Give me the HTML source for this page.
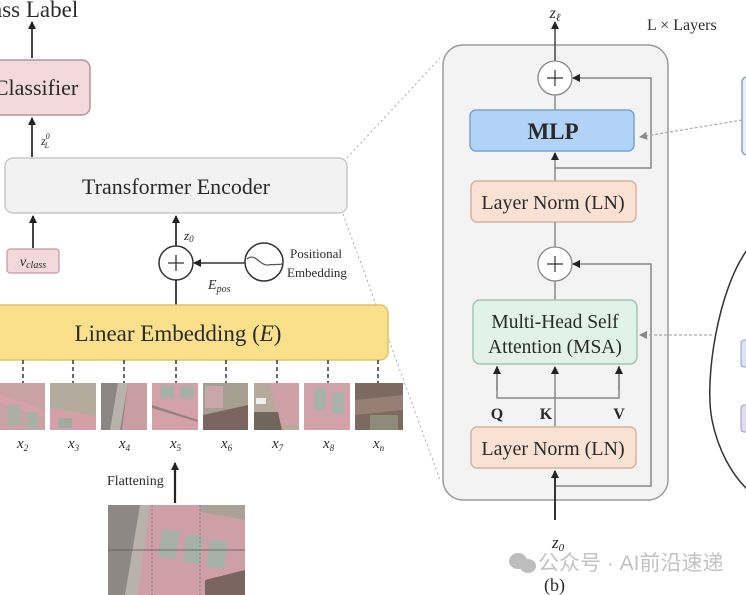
<!DOCTYPE html>
<html><head><meta charset="utf-8"><style>
html,body{margin:0;padding:0;background:#fff;width:746px;height:595px;overflow:hidden}
svg{display:block}
.s{font-family:"Liberation Serif",serif;fill:#2a2a2a}
</style></head><body>
<svg width="746" height="595" viewBox="0 0 746 595" xmlns="http://www.w3.org/2000/svg">
<defs>
<marker id="ah" markerWidth="8" markerHeight="8" refX="7" refY="4" orient="auto" markerUnits="userSpaceOnUse"><path d="M0,0 L8,4 L0,8 z" fill="#222"/></marker>
<marker id="ag" markerWidth="8" markerHeight="8" refX="7" refY="4" orient="auto" markerUnits="userSpaceOnUse"><path d="M0,0 L8,4 L0,8 z" fill="#888"/></marker>
<clipPath id="big"><rect x="108" y="505" width="137" height="90"/></clipPath>
</defs>

<line x1="347" y1="158" x2="440" y2="58" stroke="#aaa" stroke-width="1" stroke-dasharray="2,3"/>
<line x1="343" y1="214" x2="440" y2="480" stroke="#aaa" stroke-width="1" stroke-dasharray="2,3"/>

<text class="s" x="-8" y="17" font-size="23">ass Label</text>
<line x1="32" y1="58" x2="32" y2="22" stroke="#444" stroke-width="2" marker-end="url(#ah)"/>
<rect x="-10" y="60" width="100" height="55" rx="8" fill="#f3d8dc" stroke="#b9939a" stroke-width="1.5"/>
<text class="s" x="36" y="95" font-size="22" text-anchor="middle">Classifier</text>
<line x1="32" y1="157" x2="32" y2="118" stroke="#444" stroke-width="2" marker-end="url(#ah)"/>
<text class="s" x="41" y="145" font-size="12" font-style="italic" fill="#555">z<tspan font-size="8" dy="-6">0</tspan><tspan font-size="8" dx="-5" dy="9">L</tspan></text>

<rect x="5" y="158" width="342" height="55" rx="8" fill="#f2f2f2" stroke="#c8c8c8" stroke-width="1.5"/>
<text class="s" x="176" y="194" font-size="22" text-anchor="middle">Transformer Encoder</text>
<line x1="33" y1="248" x2="33" y2="216" stroke="#444" stroke-width="2" marker-end="url(#ah)"/>
<rect x="7" y="249" width="52" height="24" rx="3" fill="#f3d8dc" stroke="#c09aa0" stroke-width="1.2"/>
<text class="s" x="33" y="266" font-size="14" font-style="italic" text-anchor="middle" fill="#6a2a3a">v<tspan font-size="10" dy="2">class</tspan></text>

<line x1="176" y1="305" x2="176" y2="280" stroke="#444" stroke-width="2"/>
<line x1="176" y1="246" x2="176" y2="216" stroke="#444" stroke-width="2" marker-end="url(#ah)"/>
<text class="s" x="184" y="240" font-size="13" font-style="italic" fill="#555">z<tspan font-size="9" dy="2">0</tspan></text>
<circle cx="176" cy="263" r="17" fill="#fff" stroke="#333" stroke-width="1.5"/>
<path d="M168,263 H184 M176,255 V271" stroke="#333" stroke-width="1.3"/>
<line x1="245" y1="263" x2="194" y2="263" stroke="#333" stroke-width="1.5" marker-end="url(#ah)"/>
<text class="s" x="208" y="289" font-size="14" font-style="italic" fill="#444">E<tspan font-size="10" dy="3">pos</tspan></text>
<circle cx="264" cy="262" r="19" fill="#fff" stroke="#333" stroke-width="1.5"/>
<path d="M247,259 C255,252 260,266 268,265 C274,264 278,265 282,264" fill="none" stroke="#555" stroke-width="1.2"/>
<text class="s" x="290" y="258" font-size="13" fill="#444">Positional</text>
<text class="s" x="287" y="277" font-size="13" fill="#444">Embedding</text>

<rect x="-10" y="305" width="398" height="55" rx="8" fill="#fbe08c" stroke="#e0c26a" stroke-width="1.5"/>
<text class="s" x="178" y="341" font-size="23" text-anchor="middle">Linear Embedding (<tspan font-style="italic">E</tspan>)</text>

<g stroke="#444" stroke-width="1.6" stroke-dasharray="4,3">
<line x1="23" y1="360" x2="23" y2="383"/><line x1="73" y1="360" x2="73" y2="383"/>
<line x1="124" y1="360" x2="124" y2="383"/><line x1="176" y1="360" x2="176" y2="383"/>
<line x1="226" y1="360" x2="226" y2="383"/><line x1="277" y1="360" x2="277" y2="383"/>
<line x1="328" y1="360" x2="328" y2="383"/><line x1="378" y1="360" x2="378" y2="383"/>
</g>

<g>
<rect x="0" y="383" width="45" height="47" fill="#c9a2a4"/>
<path d="M0,395 L45,410 L45,418 L0,402z" fill="#d8a0a8"/>
<rect x="8" y="405" width="12" height="20" fill="#a9b0a4"/><rect x="26" y="412" width="12" height="16" fill="#a9b0a4"/>
<rect x="50" y="383" width="46" height="47" fill="#b3ab9c"/>
<path d="M50,408 L96,416 L96,430 L50,430z" fill="#d2a0a6"/>
<rect x="58" y="418" width="14" height="10" fill="#a4aaa0"/>
<rect x="101" y="383" width="46" height="47" fill="#8b8683"/>
<path d="M118,383 L128,383 L120,430 L110,430z" fill="#b7b2ab"/>
<path d="M128,383 L147,383 L147,430 L122,430z" fill="#c99ea2"/>
<rect x="152" y="383" width="46" height="47" fill="#d2a2a8"/>
<rect x="160" y="386" width="14" height="12" fill="#a9b1a6"/><rect x="180" y="386" width="14" height="12" fill="#a9b1a6"/>
<path d="M152,405 L198,420 L198,422 L152,408z" fill="#9a7f80"/>
<rect x="203" y="383" width="45" height="47" fill="#a59f90"/>
<rect x="205" y="386" width="18" height="22" fill="#c9a7a8"/>
<path d="M203,415 L248,405 L248,430 L203,430z" fill="#7b6560"/>
<rect x="254" y="383" width="45" height="47" fill="#b6aa9c"/>
<path d="M270,383 L299,383 L299,425 L280,425z" fill="#cfa1a6"/>
<rect x="256" y="398" width="10" height="6" fill="#eee"/>
<path d="M254,412 L278,412 L282,430 L254,430z" fill="#6f665d"/>
<rect x="304" y="383" width="46" height="47" fill="#d1a2a8"/>
<rect x="314" y="388" width="12" height="22" fill="#a8b2a8"/><rect x="332" y="392" width="12" height="22" fill="#a8b2a8"/>
<rect x="355" y="383" width="48" height="47" fill="#7c6a60"/>
<path d="M355,400 L403,395 L403,410 L355,415z" fill="#967f75"/>
<rect x="370" y="415" width="28" height="15" fill="#8f8b7a"/>
</g>

<g class="s" font-size="15" font-style="italic" fill="#444">
<text x="17" y="448">x<tspan font-size="9" dy="3">2</tspan></text>
<text x="68" y="448">x<tspan font-size="9" dy="3">3</tspan></text>
<text x="119" y="448">x<tspan font-size="9" dy="3">4</tspan></text>
<text x="170" y="448">x<tspan font-size="9" dy="3">5</tspan></text>
<text x="221" y="448">x<tspan font-size="9" dy="3">6</tspan></text>
<text x="272" y="448">x<tspan font-size="9" dy="3">7</tspan></text>
<text x="323" y="448">x<tspan font-size="9" dy="3">8</tspan></text>
<text x="373" y="448">x<tspan font-size="9" dy="3">n</tspan></text>
</g>

<text class="s" x="107" y="485" font-size="14" fill="#444">Flattening</text>
<line x1="175" y1="503" x2="175" y2="463" stroke="#222" stroke-width="2.2" marker-end="url(#ah)"/>

<g clip-path="url(#big)">
<rect x="108" y="505" width="137" height="90" fill="#8d8884"/>
<path d="M140,505 L152,505 L138,595 L125,595z" fill="#b8b2aa"/>
<path d="M150,505 L245,505 L245,595 L138,595z" fill="#cf9fa6"/>
<rect x="160" y="530" width="18" height="28" fill="#a8b1a7" transform="rotate(8 169 544)"/>
<rect x="184" y="535" width="18" height="28" fill="#a8b1a7" transform="rotate(8 193 549)"/>
<rect x="208" y="540" width="18" height="28" fill="#a8b1a7" transform="rotate(8 217 554)"/>
<path d="M200,505 L245,505 L245,520 L200,512z" fill="#aaa296"/>
<path d="M205,580 L245,570 L245,595 L205,595z" fill="#7a6560"/>
<line x1="108" y1="550" x2="245" y2="550" stroke="#555" stroke-width="0.8"/>
<line x1="152" y1="505" x2="152" y2="595" stroke="#777" stroke-width="0.8" stroke-dasharray="2,2"/>
<line x1="200" y1="505" x2="200" y2="595" stroke="#777" stroke-width="0.8" stroke-dasharray="2,2"/>
</g>

<rect x="443" y="45" width="225" height="455" rx="20" fill="#f3f3f3" stroke="#9a9a9a" stroke-width="1.5"/>
<text class="s" x="555" y="18" font-size="16" font-style="italic" text-anchor="middle" fill="#333">z<tspan font-size="11" dy="3">ℓ</tspan></text>
<line x1="555" y1="61" x2="555" y2="22" stroke="#444" stroke-width="1.5" marker-end="url(#ah)"/>
<text class="s" x="647" y="30" font-size="16" fill="#333">L × Layers</text>

<circle cx="555" cy="78" r="17" fill="#fff" stroke="#888" stroke-width="1.3"/>
<path d="M547,78 H563 M555,70 V86" stroke="#333" stroke-width="1.2"/>
<line x1="555" y1="95" x2="555" y2="110" stroke="#888" stroke-width="1.5"/>
<polyline points="555,168 651,168 651,78 573,78" fill="none" stroke="#888" stroke-width="1.5" marker-end="url(#ah)"/>
<rect x="470" y="110" width="164" height="41" rx="6" fill="#b0d3f7" stroke="#7aa3cf" stroke-width="1.5"/>
<text class="s" x="553" y="139" font-size="23" font-weight="bold" text-anchor="middle" fill="#233">MLP</text>
<line x1="555" y1="181" x2="555" y2="153" stroke="#888" stroke-width="1.5" marker-end="url(#ah)"/>
<rect x="471" y="181" width="165" height="41" rx="6" fill="#f9e2d3" stroke="#d8b39d" stroke-width="1.5"/>
<text class="s" x="553" y="209" font-size="20" text-anchor="middle">Layer Norm (LN)</text>
<line x1="555" y1="222" x2="555" y2="247" stroke="#888" stroke-width="1.5"/>

<circle cx="555" cy="264" r="17" fill="#fff" stroke="#888" stroke-width="1.3"/>
<path d="M547,264 H563 M555,256 V272" stroke="#333" stroke-width="1.2"/>
<line x1="555" y1="281" x2="555" y2="300" stroke="#888" stroke-width="1.5"/>
<polyline points="555,486 651,486 651,264 573,264" fill="none" stroke="#888" stroke-width="1.5" marker-end="url(#ah)"/>
<rect x="473" y="300" width="164" height="64" rx="7" fill="#e0f2ea" stroke="#a3c6b6" stroke-width="1.5"/>
<text class="s" x="555" y="328" font-size="19.5" text-anchor="middle">Multi-Head Self</text>
<text class="s" x="555" y="353" font-size="19.5" text-anchor="middle">Attention (MSA)</text>
<polyline points="497,366 497,398 619,398 619,366" fill="none" stroke="#888" stroke-width="1.5"/>
<line x1="497" y1="390" x2="497" y2="367" stroke="#888" stroke-width="1.5" marker-end="url(#ah)"/>
<line x1="619" y1="390" x2="619" y2="367" stroke="#888" stroke-width="1.5" marker-end="url(#ah)"/>
<line x1="555" y1="427" x2="555" y2="367" stroke="#888" stroke-width="1.5" marker-end="url(#ah)"/>
<text class="s" x="497" y="419" font-size="16" font-weight="bold" text-anchor="middle">Q</text>
<text class="s" x="546" y="419" font-size="16" font-weight="bold" text-anchor="middle">K</text>
<text class="s" x="619" y="419" font-size="16" font-weight="bold" text-anchor="middle">V</text>
<rect x="471" y="427" width="165" height="41" rx="6" fill="#f9e2d3" stroke="#d8b39d" stroke-width="1.5"/>
<text class="s" x="553" y="455" font-size="20" text-anchor="middle">Layer Norm (LN)</text>
<line x1="555" y1="520" x2="555" y2="471" stroke="#333" stroke-width="2" marker-end="url(#ah)"/>
<text class="s" x="552" y="548" font-size="17" font-style="italic" fill="#333">z<tspan font-size="11" dy="3">0</tspan></text>

<g fill="#bdbdbd">
<ellipse cx="518" cy="561" rx="9" ry="8"/><ellipse cx="528" cy="566" rx="8" ry="7"/>
</g>
<text x="538" y="570" font-size="21" font-family="'Liberation Sans','Noto Sans CJK SC',sans-serif" fill="#c2c2c2">公众号 · AI前沿速递</text>
<text class="s" x="544" y="591" font-size="18" fill="#333">(b)</text>

<line x1="742" y1="120" x2="640" y2="137" stroke="#aaa" stroke-width="1.2" stroke-dasharray="3,2" marker-end="url(#ag)"/>
<line x1="712" y1="335" x2="640" y2="335" stroke="#aaa" stroke-width="1.2" stroke-dasharray="3,2" marker-end="url(#ag)"/>
<rect x="742" y="77" width="20" height="78" rx="5" fill="#e6eef8" stroke="#8aa4c4" stroke-width="1.5"/>
<path d="M747,250 C718,290 704,380 712,420 C718,450 732,475 748,490" fill="none" stroke="#333" stroke-width="1.5"/>
<rect x="741" y="340" width="15" height="27" rx="3" fill="#d8e4f6" stroke="#8aa4c4"/>
<rect x="741" y="405" width="15" height="27" rx="3" fill="#e2dcef" stroke="#a49ac0"/>
</svg>
</body></html>
